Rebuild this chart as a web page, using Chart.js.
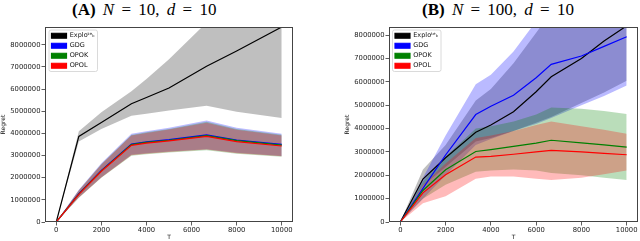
<!DOCTYPE html>
<html><head><meta charset="utf-8">
<script src="https://cdn.jsdelivr.net/npm/chart.js@4.4.1/dist/chart.umd.min.js"></script>
<style>
body{margin:0;width:640px;height:241px;background:#fff;overflow:hidden;position:relative}
canvas{position:absolute;top:0}
.t{position:absolute;top:0px;font-family:"Liberation Serif",serif;font-size:17px;word-spacing:3px;white-space:nowrap;color:#000;line-height:20px}
.t i{font-style:italic}
</style></head><body>
<div class="t" style="left:72px"><b>(A)</b> <i>N</i> = 10, <i>d</i> = 10</div>
<div class="t" style="left:422px"><b>(B)</b> <i>N</i> = 100, <i>d</i> = 10</div>
<canvas id="cA" width="320" height="241" style="left:0"></canvas>
<canvas id="cB" width="320" height="241" style="left:320px"></canvas>
<script>
// ---- Panel A: N = 10, d = 10 ----
const T_A = [0, 1000, 2000, 3333, 4000, 5000, 6667, 8000, 10000];
const explo_A    = [0, 3860000, 4490000, 5340000, 5620000, 6050000, 7030000, 7720000, 8800000];
const explo_A_lo = [0, 3630000, 4200000, 4800000, 4880000, 5030000, 5250000, 4980000, 4690000];
const explo_A_hi = [0, 4100000, 4950000, 5900000, 6450000, 7350000, 9000000, 10800000, 13000000];
const gdg_A      = [0, 1280000, 2330000, 3520000, 3620000, 3720000, 3930000, 3700000, 3500000];
const gdg_A_lo   = [0, 1120000, 2020000, 3030000, 3100000, 3180000, 3280000, 3120000, 2980000];
const gdg_A_hi   = [0, 1460000, 2650000, 3980000, 4100000, 4250000, 4580000, 4250000, 3980000];
const opok_A     = [0, 1260000, 2310000, 3490000, 3590000, 3690000, 3900000, 3670000, 3470000];
const opok_A_lo  = [0, 1100000, 2000000, 2990000, 3060000, 3140000, 3240000, 3080000, 2940000];
const opok_A_hi  = [0, 1430000, 2610000, 3930000, 4050000, 4200000, 4520000, 4200000, 3940000];
const opol_A     = [0, 1250000, 2290000, 3460000, 3560000, 3660000, 3860000, 3630000, 3430000];
const opol_A_lo  = [0, 1100000, 2010000, 3010000, 3080000, 3160000, 3270000, 3100000, 2970000];
const opol_A_hi  = [0, 1420000, 2590000, 3900000, 4020000, 4170000, 4480000, 4160000, 3900000];

// ---- Panel B: N = 100, d = 10 ----
const T_B = [0, 1000, 2000, 3333, 4000, 5000, 6000, 6667, 8000, 9000, 10000];
const explo_B    = [0, 1840000, 2750000, 3840000, 4150000, 4720000, 5580000, 6220000, 7000000, 7750000, 8400000];
const explo_B_lo = [0, 1550000, 2350000, 3450000, 3600000, 3900000, 4250000, 4500000, 5100000, 5550000, 6050000];
const explo_B_hi = [0, 2250000, 3300000, 5200000, 5700000, 6800000, 8100000, 9000000, 10500000, 11300000, 12000000];
const gdg_B      = [0, 1440000, 2870000, 4600000, 4960000, 5430000, 6180000, 6750000, 7110000, 7520000, 7930000];
const gdg_B_lo   = [0, 1000000, 2000000, 3300000, 3550000, 3900000, 4200000, 4450000, 5000000, 5400000, 5850000];
const gdg_B_hi   = [0, 1900000, 3700000, 5900000, 6300000, 7300000, 8600000, 9500000, 11000000, 11500000, 12000000];
const opok_B     = [0, 1350000, 2240000, 3020000, 3100000, 3240000, 3380000, 3500000, 3390000, 3300000, 3210000];
const opok_B_lo  = [0, 1000000, 1600000, 2150000, 2200000, 2250000, 2200000, 2100000, 2000000, 1900000, 1800000];
const opok_B_hi  = [0, 1750000, 2800000, 4000000, 4100000, 4300000, 4600000, 4900000, 4850000, 4750000, 4620000];
const opol_B     = [0, 1250000, 2020000, 2780000, 2810000, 2900000, 3000000, 3070000, 3000000, 2940000, 2880000];
const opol_B_lo  = [0, 800000, 1100000, 1850000, 1950000, 1950000, 1850000, 1800000, 1900000, 2050000, 2200000];
const opol_B_hi  = [0, 1600000, 2500000, 3600000, 3700000, 3900000, 4150000, 4300000, 4100000, 3950000, 3780000];

const xTicks = [0, 2000, 4000, 6000, 8000, 10000];
const yTicks = [0, 1000000, 2000000, 3000000, 4000000, 5000000, 6000000, 7000000, 8000000];
const seriesNames = ['Explo\u1D57\u1D49\u2096', 'GDG', 'OPOK', 'OPOL'];
const seriesColors = ['#000000', '#0000ff', '#008000', '#ff0000'];
const bandColors = ['rgba(0,0,0,0.25)', 'rgba(0,0,255,0.27)', 'rgba(0,128,0,0.27)', 'rgba(255,0,0,0.27)'];

const pts = (T, ys) => T.map((t, i) => ({x: t, y: ys[i]}));

const framePlugin = {
  id: 'frame',
  afterLayout(chart) {
    const lg = chart.legend, ca = chart.chartArea;
    if (!lg) return;
    const o = chart.options.plugins.frame || {};
    lg.left = ca.left + (o.lx || 2); lg.top = ca.top + (o.ly || 1);
    lg.right = lg.left + lg.width; lg.bottom = lg.top + lg.height;
  },
  beforeDraw(chart) {
    const lg = chart.legend; if (!lg || !lg.legendHitBoxes || !lg.legendHitBoxes.length) return;
    const hb = lg.legendHitBoxes;
    let l = Infinity, t = Infinity, r = -Infinity, b = -Infinity;
    hb.forEach(h => { l = Math.min(l, h.left); t = Math.min(t, h.top); r = Math.max(r, h.left + h.width); b = Math.max(b, h.top + h.height); });
    const ctx = chart.ctx;
    ctx.save();
    ctx.beginPath();
    ctx.roundRect(l - 2.5, t - 2.5, r - l + 5, b - t + 5, 2);
    ctx.fillStyle = 'rgba(255,255,255,0.8)';
    ctx.fill();
    ctx.strokeStyle = '#d0d0d0';
    ctx.lineWidth = 0.8;
    ctx.stroke();
    ctx.restore();
  },
  afterDatasetsDraw(chart) {
    const ca = chart.chartArea, ctx = chart.ctx;
    ctx.save();
    ctx.strokeStyle = '#444';
    ctx.lineWidth = 1;
    ctx.strokeRect(Math.round(ca.left) + 0.5, Math.round(ca.top) + 0.5, Math.round(ca.right - ca.left) - 1, Math.round(ca.bottom - ca.top) - 1);
    ctx.restore();
  }
};

function build(id, T, ymax, lines, bands, padLeft, padRight, lx) {
  const datasets = [];
  lines.forEach((ys, i) => datasets.push({
    label: seriesNames[i], data: pts(T, ys), borderColor: seriesColors[i], backgroundColor: seriesColors[i],
    borderWidth: 1.2, pointRadius: 0, fill: false, tension: 0, order: 4 - i
  }));
  bands.forEach((b, i) => {
    datasets.push({data: pts(T, b[1]), fill: '+1', backgroundColor: bandColors[i], borderWidth: 0, pointRadius: 0, tension: 0, order: 10 + (4 - i)});
    datasets.push({data: pts(T, b[0]), fill: false, borderWidth: 0, pointRadius: 0, tension: 0, order: 10 + (4 - i)});
  });
  const tickFont = {family: 'DejaVu Sans', size: 6.8};
  new Chart(document.getElementById(id), {
    type: 'line',
    data: {datasets},
    plugins: [framePlugin],
    options: {
      responsive: false, animation: false, devicePixelRatio: 1,
      layout: {padding: {top: 27, right: padRight, bottom: 0, left: padLeft}},
      plugins: {
        frame: {lx: lx, ly: 2},
        tooltip: {enabled: false},
        legend: {
          position: 'chartArea', align: 'start',
          labels: {
            font: {family: 'DejaVu Sans', size: 6.5}, color: '#111', boxWidth: 15, boxHeight: 5, padding: 3.5,
            filter: it => !!it.text,
            sort: (a, b) => a.datasetIndex - b.datasetIndex
          }
        }
      },
      scales: {
        x: {
          type: 'linear', min: -500, max: 10500,
          afterBuildTicks: s => { s.ticks = xTicks.map(v => ({value: v})); },
          afterFit: s => { s.height = 19; },
          ticks: {font: tickFont, color: '#222', padding: 1, maxRotation: 0, callback: v => String(v)},
          grid: {drawOnChartArea: false, drawTicks: true, tickLength: 3.5, color: '#333', tickWidth: 0.8},
          border: {display: false},
          title: {display: true, text: 'T', font: {family: 'DejaVu Sans', size: 6}, color: '#111', padding: 0}
        },
        y: {
          type: 'linear', min: 0, max: ymax,
          afterBuildTicks: s => { s.ticks = yTicks.map(v => ({value: v})); },
          afterFit: s => { s.width = 45; },
          ticks: {font: tickFont, color: '#222', padding: 1, callback: v => String(v)},
          grid: {drawOnChartArea: false, drawTicks: true, tickLength: 3.5, color: '#333', tickWidth: 0.8},
          border: {display: false},
          title: {display: true, text: 'Regret', font: {family: 'DejaVu Sans', size: 6}, color: '#111', padding: 0}
        }
      }
    }
  });
}

build('cA', T_A, 8800000,
  [explo_A, gdg_A, opok_A, opol_A],
  [[explo_A_lo, explo_A_hi], [gdg_A_lo, gdg_A_hi], [opok_A_lo, opok_A_hi], [opol_A_lo, opol_A_hi]],
  0, 27, 3);
build('cB', T_B, 8350000,
  [explo_B, gdg_B, opok_B, opol_B],
  [[explo_B_lo, explo_B_hi], [gdg_B_lo, gdg_B_hi], [opok_B_lo, opok_B_hi], [opol_B_lo, opol_B_hi]],
  24, 2, 2.5);
</script>
</body></html>
